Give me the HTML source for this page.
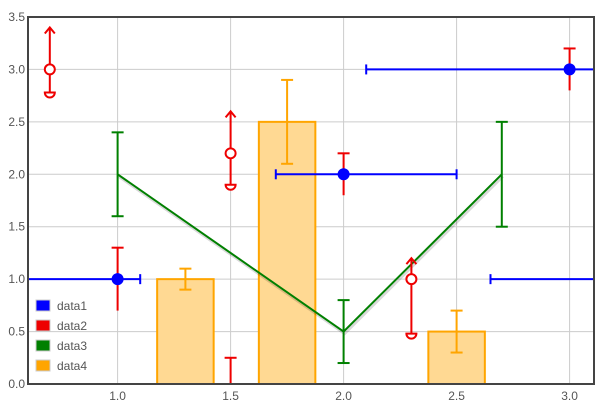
<!DOCTYPE html>
<html><head><meta charset="utf-8"><style>
body{margin:0;background:#fff;}
svg{display:block;font-family:"Liberation Sans",sans-serif;}
</style></head><body>
<svg id="chart" width="610" height="407" viewBox="0 0 610 407"></svg>
<script>
const xTicks=[1.0,1.5,2.0,2.5,3.0];
const yTicks=[0.0,0.5,1.0,1.5,2.0,2.5,3.0,3.5];
const d1x=[1,2,3,3.6];
const d1y=[1,2,3,1];
const d1xlo=[0.3,1.7,2.1,2.65];
const d1xhi=[1.1,2.5,3.6,3.8];
const d1ylo=[0.7,1.8,2.8,1];
const d1yhi=[1.3,2.2,3.2,1];
const d2x=[0.7,1.5,2.3];
const d2y=[3.0,2.2,1.0];
const d2hi=[3.4,2.6,1.2];
const d2lo=[2.78,1.9,0.48];
const d2bx=[1.5];
const d2by=[0.25];
const d3x=[1,2,2.7];
const d3y=[2,0.5,2];
const d3lo=[1.6,0.2,1.5];
const d3hi=[2.4,0.8,2.5];
const d4x=[1.3,1.75,2.5];
const d4y=[1.0,2.5,0.5];
const d4lo=[0.9,2.1,0.3];
const d4hi=[1.1,2.9,0.7];
const barW=0.25;
const L=28,R=594,T=17,B=384,xmin=0.6035,xmax=3.108,ymin=0,ymax=3.5;
const X=v=>L+(v-xmin)/(xmax-xmin)*(R-L);
const Y=v=>B-(v-ymin)/(ymax-ymin)*(B-T);
const svg=document.getElementById('chart');const NS='http://www.w3.org/2000/svg';
function mk(tag,attrs,parent){const e=document.createElementNS(NS,tag);for(const k in attrs)e.setAttribute(k,attrs[k]);(parent||svg).appendChild(e);return e;}
const defs=mk('defs',{});const cp=mk('clipPath',{id:'clip'},defs);mk('rect',{x:L,y:T,width:R-L,height:B-T},cp);
const grid=mk('g',{});


xTicks.forEach(t=>{mk('line',{x1:X(t),x2:X(t),y1:T,y2:B,stroke:'#ccc','stroke-width':1},grid);
const tx=mk('text',{x:X(t),y:B+16,'text-anchor':'middle','font-size':12,fill:'#555'});tx.textContent=t.toFixed(1);

});
yTicks.forEach(t=>{mk('line',{x1:L,x2:R,y1:Y(t),y2:Y(t),stroke:'#ccc','stroke-width':1},grid);
const tx=mk('text',{x:L-3,y:Y(t)+4,'text-anchor':'end','font-size':12,fill:'#555'});tx.textContent=t.toFixed(1);

});
const plot=mk('g',{'clip-path':'url(#clip)'});


// data4 bars
d4x.forEach((x,i)=>{const r=mk('rect',{x:X(x-barW/2),y:Y(d4y[i]),width:X(x+barW/2)-X(x-barW/2),height:Y(0)-Y(d4y[i]),fill:'#ffd993',stroke:'#ffa500','stroke-width':2},plot);


const g=mk('g',{stroke:'#ffa500','stroke-width':2},plot);


mk('line',{x1:X(x),x2:X(x),y1:Y(d4lo[i]),y2:Y(d4hi[i])},g);
mk('line',{x1:X(x)-6,x2:X(x)+6,y1:Y(d4lo[i]),y2:Y(d4lo[i])},g);
mk('line',{x1:X(x)-6,x2:X(x)+6,y1:Y(d4hi[i]),y2:Y(d4hi[i])},g);});
// data3 line
let p='';d3x.forEach((x,i)=>{p+=(i?'L':'M')+X(x)+','+Y(d3y[i]);});
mk('path',{d:p,fill:'none',stroke:'rgba(0,0,0,0.15)','stroke-width':3,transform:'translate(1,2)'},plot);
const ln=mk('path',{d:p,fill:'none',stroke:'#008000','stroke-width':2},plot);


d3x.forEach((x,i)=>{const g=mk('g',{stroke:'#008000','stroke-width':2},plot);


mk('line',{x1:X(x),x2:X(x),y1:Y(d3lo[i]),y2:Y(d3hi[i])},g);
mk('line',{x1:X(x)-6,x2:X(x)+6,y1:Y(d3lo[i]),y2:Y(d3lo[i])},g);
mk('line',{x1:X(x)-6,x2:X(x)+6,y1:Y(d3hi[i]),y2:Y(d3hi[i])},g);});
// data2
d2x.forEach((x,i)=>{const g=mk('g',{stroke:'#e00',fill:'none','stroke-width':2},plot);


const cx=X(x),cy=Y(d2y[i]),hy=Y(d2hi[i]),ly=Y(d2lo[i]);
mk('line',{x1:cx,x2:cx,y1:hy,y2:ly},g);
mk('path',{d:`M${cx-5},${hy+6}L${cx},${hy}L${cx+5},${hy+6}`},g);
mk('path',{d:`M${cx-5},${ly}A5,5 0 0 0 ${cx+5},${ly}Z`,fill:'#fff'},g);
mk('circle',{cx:cx,cy:cy,r:5,fill:'#fff'},g);});
d2bx.forEach((x,i)=>{const g=mk('g',{stroke:'#e00','stroke-width':2},plot);


mk('line',{x1:X(x),x2:X(x),y1:Y(d2by[i]),y2:B},g);
mk('line',{x1:X(x)-6,x2:X(x)+6,y1:Y(d2by[i]),y2:Y(d2by[i])},g);});
// data1
d1x.forEach((x,i)=>{const g=mk('g',{'stroke-width':2},plot);


const cy=Y(d1y[i]);
if(d1yhi[i]!==d1ylo[i]){mk('line',{x1:X(x),x2:X(x),y1:Y(d1ylo[i]),y2:Y(d1yhi[i]),stroke:'#e00'},g);
mk('line',{x1:X(x)-6,x2:X(x)+6,y1:Y(d1yhi[i]),y2:Y(d1yhi[i]),stroke:'#e00'},g);}
mk('line',{x1:X(d1xlo[i]),x2:X(d1xhi[i]),y1:cy,y2:cy,stroke:'#00f'},g);
mk('line',{x1:X(d1xlo[i]),x2:X(d1xlo[i]),y1:cy-5,y2:cy+5,stroke:'#00f'},g);
mk('line',{x1:X(d1xhi[i]),x2:X(d1xhi[i]),y1:cy-5,y2:cy+5,stroke:'#00f'},g);
mk('circle',{cx:X(x),cy:cy,r:6,fill:'#00f'},g);});
// frame
const fr=mk('rect',{x:L,y:T,width:R-L,height:B-T,fill:'none',stroke:'#444','stroke-width':2});


// legend
const legNames=['data1','data2','data3','data4'];const legCols=['#00f','#e00','#008000','#ffa500'];
const lg=mk('g',{});


legNames.forEach((n,i)=>{const y=300+i*20;const e=mk('g',{},lg);


mk('rect',{x:36,y:y,width:14,height:11,fill:legCols[i],stroke:'#ccc','stroke-width':1},e);
const t=mk('text',{x:57,y:y+10,'font-size':12,fill:'#555'},e);t.textContent=n;});
</script>
</body></html>
